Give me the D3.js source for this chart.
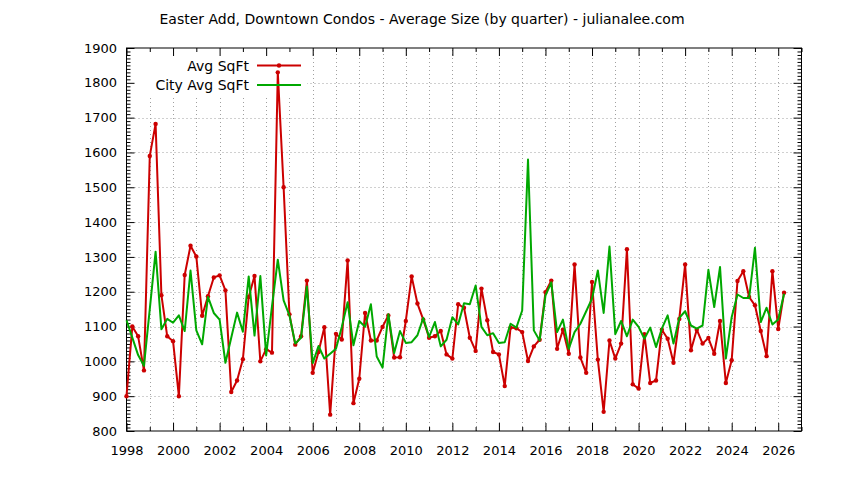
<!DOCTYPE html>
<html>
<head>
<meta charset="utf-8">
<script src="https://cdn.jsdelivr.net/npm/d3@7"></script>
<style>
	body { margin:0; background:#fff; }
	svg text { font-family:"DejaVu Sans", Verdana, sans-serif; font-size:14px; fill:#000; }
	svg .tick text { font-size:13px; }
</style>
</head>
<body>
<script>
//=======================================================================
var v_Title = "Easter Add, Downtown Condos - Average Size (by quarter) - julianalee.com";
var v_FirstYear = 1998; // first quarter of the series, one point per quarter

var aryAvgSqFt = [
	 900, 1100, 1072,  974,   1590, 1682, 1190, 1072,   1058,  900, 1248, 1332,
	1301, 1131, 1187, 1241,   1247, 1204,  912,  945,   1006, 1185, 1245, 1000,
	1035, 1025, 1830, 1500,   1135, 1048, 1072, 1232,    967, 1027, 1098,  847,
	1079, 1063, 1290,  880,    950, 1139, 1060, 1060,   1099, 1132, 1011, 1012,
	1116, 1244, 1166, 1120,   1068, 1072, 1087, 1020,   1008, 1164, 1154, 1068,
	1030, 1209, 1118, 1027,   1020,  929, 1097, 1095,   1084, 1001, 1043, 1062,
	1199, 1232, 1036, 1091,   1022, 1278, 1011,  967,   1228, 1005,  855, 1060,
	1008, 1051, 1322,  934,    922, 1078,  938,  945,   1091, 1065,  996, 1122,
	1278, 1032, 1091, 1051,   1067, 1022, 1116,  938,   1003, 1231, 1259, 1185,
	1161, 1087, 1015, 1259,   1093, 1197
];
var aryCityAvgSqFt = [
	1118, 1068, 1018,  987,   1150, 1315, 1092, 1122,   1111, 1132, 1087, 1261,
	1089, 1049, 1185, 1139,   1120,  996, 1068, 1140,   1085, 1244, 1074, 1245,
	1017, 1158, 1292, 1175,   1132, 1051, 1068, 1215,    995, 1044, 1008, 1022,
	1036, 1099, 1170, 1046,   1116, 1099, 1164, 1014,    982, 1135, 1024, 1087,
	1053, 1055, 1075, 1125,   1070, 1113, 1043, 1062,   1127, 1106, 1167, 1164,
	1218, 1099, 1075, 1081,   1053, 1055, 1108, 1097,   1146, 1580, 1089, 1060,
	1189, 1227, 1084, 1120,   1036, 1084, 1108, 1144,   1180, 1261, 1139, 1330,
	1078, 1116, 1072, 1120,   1099, 1065, 1097, 1041,   1094, 1132, 1051, 1125,
	1144, 1103, 1094, 1103,   1263, 1156, 1271, 1008,   1127, 1192, 1182, 1182,
	1326, 1113, 1154, 1106,   1120, 1194
];
var arySeriesNames = ["Avg SqFt", "City Avg SqFt"];
var aryXTicks = [1998, 2000, 2002, 2004, 2006, 2008, 2010, 2012, 2014, 2016, 2018, 2020, 2022, 2024, 2026];
var aryYTicks = [800, 900, 1000, 1100, 1200, 1300, 1400, 1500, 1600, 1700, 1800, 1900];

var RED = "#cc0000", GREEN = "#00a800", GRID = "#a0a0a0";

//----------------------------------------------------------------------
var v_Canvas = d3.select("body").append("svg").attr("width", 844).attr("height", 480);

var x = d3.scaleLinear().domain([1998, 2027]).range([126.5, 801.5]);
var y = d3.scaleLinear().domain([800, 1900]).range([431, 48]);

f_Draw();

//----------------------------------------------------------------------
function f_toPoints(arg_ary) // quarter index -> {t,v}
{
	return arg_ary.map(function(v, i){ return {t: v_FirstYear + i / 4, v: v}; });
}

function f_Draw()
{
	var yrs = d3.range(1998, 2028);            // one grid line per year
	var yMinor = d3.range(800, 1901, 10);
	var oddYrs = yrs.filter(function(d){ return d % 2; });
	var yMinorOnly = yMinor.filter(function(d){ return d % 100; });

	// grid
	var g = v_Canvas.append("g").attr("stroke", GRID).attr("stroke-width", 1).attr("stroke-dasharray", "1,3");
	g.selectAll(".gx").data(yrs.slice(1, -1)).enter().append("line")
		.attr("x1", function(d){ return Math.round(x(d)) + 0.5; })
		.attr("x2", function(d){ return Math.round(x(d)) + 0.5; })
		.attr("y1", y(800)).attr("y2", y(1900));
	g.selectAll(".gy").data(aryYTicks.slice(1, -1)).enter().append("line")
		.attr("x1", x(1998)).attr("x2", x(2027))
		.attr("y1", function(d){ return Math.round(y(d)) + 0.5; })
		.attr("y2", function(d){ return Math.round(y(d)) + 0.5; });

	// key box hides the grid under it
	v_Canvas.append("rect").attr("x", 127).attr("y", 49).attr("width", 180).attr("height", 46).attr("fill", "#fff");

	// axes: inward ticks on all four sides, border drawn as a rect below
	var axX = v_Canvas.append("g").attr("transform", "translate(0," + y(800) + ")");
	axX.append("g").call(d3.axisBottom(x).tickValues(aryXTicks).tickSizeInner(-8).tickSizeOuter(0).tickPadding(15).tickFormat(d3.format("d")));
	axX.append("g").call(d3.axisBottom(x).tickValues(oddYrs).tickSize(-4).tickFormat(""));
	var axX2 = v_Canvas.append("g").attr("transform", "translate(0," + y(1900) + ")");
	axX2.append("g").call(d3.axisTop(x).tickValues(aryXTicks).tickSize(-8).tickFormat(""));
	axX2.append("g").call(d3.axisTop(x).tickValues(oddYrs).tickSize(-4).tickFormat(""));

	var axY = v_Canvas.append("g").attr("transform", "translate(" + x(1998) + ",0)");
	axY.append("g").call(d3.axisLeft(y).tickValues(aryYTicks).tickSizeInner(-8).tickSizeOuter(0).tickPadding(9.5).tickFormat(d3.format("d")));
	axY.append("g").call(d3.axisLeft(y).tickValues(yMinorOnly).tickSize(-4).tickFormat(""));
	var axY2 = v_Canvas.append("g").attr("transform", "translate(" + x(2027) + ",0)");
	axY2.append("g").call(d3.axisRight(y).tickValues(aryYTicks).tickSize(-8).tickFormat(""));
	axY2.append("g").call(d3.axisRight(y).tickValues(yMinorOnly).tickSize(-4).tickFormat(""));

	v_Canvas.selectAll(".domain").remove();
	v_Canvas.selectAll(".tick line").attr("stroke", "#000");

	v_Canvas.append("rect")
		.attr("x", x(1998)).attr("y", y(1900))
		.attr("width", x(2027) - x(1998)).attr("height", y(800) - y(1900))
		.attr("fill", "none").attr("stroke", "#000").attr("stroke-width", 1);

	// series
	var line = d3.line().x(function(d){ return x(d.t); }).y(function(d){ return y(d.v); });
	var ptsRed = f_toPoints(aryAvgSqFt), ptsGreen = f_toPoints(aryCityAvgSqFt);

	v_Canvas.append("path").datum(ptsRed)
		.attr("d", line).attr("fill", "none").attr("stroke", RED).attr("stroke-width", 2).attr("stroke-linejoin", "round");
	v_Canvas.selectAll(".pt").data(ptsRed).enter().append("circle")
		.attr("cx", function(d){ return x(d.t); }).attr("cy", function(d){ return y(d.v); })
		.attr("r", 2.2).attr("fill", RED);
	v_Canvas.append("path").datum(ptsGreen)
		.attr("d", line).attr("fill", "none").attr("stroke", GREEN).attr("stroke-width", 2).attr("stroke-linejoin", "round");

	// key
	var key = v_Canvas.append("g");
	[RED, GREEN].forEach(function(c, i){
		var ky = 65.5 + i * 19.5;
		key.append("text").attr("x", 249).attr("y", ky).attr("dy", "0.36em").attr("text-anchor", "end").text(arySeriesNames[i]);
		key.append("line").attr("x1", 257).attr("x2", 301).attr("y1", ky).attr("y2", ky)
			.attr("stroke", c).attr("stroke-width", 2);
		if (i == 0) key.append("circle").attr("cx", 279).attr("cy", ky).attr("r", 2.2).attr("fill", c);
	});

	// title
	v_Canvas.append("text").attr("x", 422).attr("y", 24).attr("text-anchor", "middle").text(v_Title);
}
//======================================================================
</script>
</body>
</html>
